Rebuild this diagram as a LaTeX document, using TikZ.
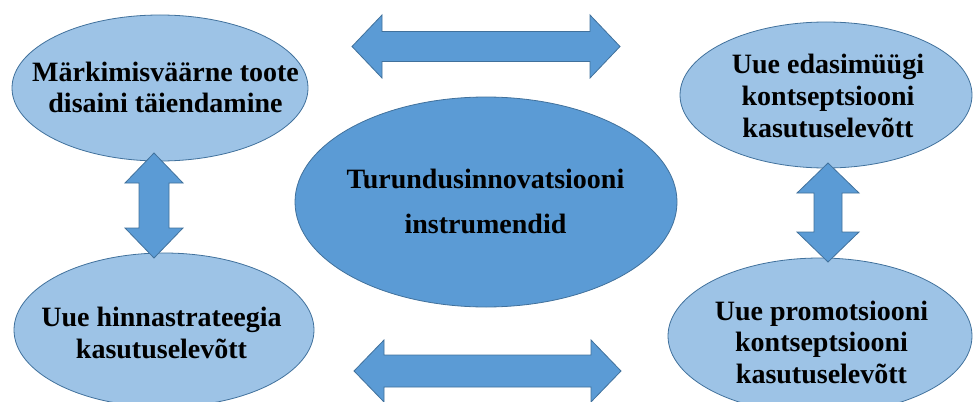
\documentclass[tikz,border=0pt]{standalone}
\usepackage{fontspec}
\setmainfont{Liberation Serif}
\usetikzlibrary{shapes.geometric}
\definecolor{lightblue}{RGB}{157,195,230}
\definecolor{midblue}{RGB}{91,155,213}
\definecolor{edgeblue}{RGB}{65,113,156}
\tikzset{
  sidebox/.style={ellipse, draw=edgeblue, line width=0.8pt, fill=lightblue, inner sep=0pt},
  centerbox/.style={ellipse, draw=edgeblue, line width=0.8pt, fill=midblue, inner sep=0pt},
  sidetext/.style={anchor=base, inner sep=0pt, align=center, font=\bfseries\fontsize{28}{31.5}\selectfont},
  centertext/.style={anchor=base, inner sep=0pt, align=center, font=\bfseries\fontsize{28}{45}\selectfont},
  blockarrow/.style={draw=edgeblue, line width=0.8pt, fill=midblue, line join=miter},
}
\begin{document}
\begin{tikzpicture}[x=1pt,y=-1pt]
\useasboundingbox (0,0) rectangle (973,401);
% ellipses
\node[sidebox, minimum width=296pt, minimum height=146pt] (tl) at (160,88) {};
\node[sidebox, minimum width=292pt, minimum height=146pt] (tr) at (826,95) {};
\node[centerbox, minimum width=382pt, minimum height=210pt] (c) at (486,202) {};
\node[sidebox, minimum width=300pt, minimum height=154pt] (bl) at (164,330) {};
\node[sidebox, minimum width=304pt, minimum height=156pt] (br) at (820,336) {};
% texts (anchor=base is the baseline of the last line)
\node[sidetext] (tlt) at (165.5,113) {Märkimisväärne toote\\disaini täiendamine};
\node[sidetext] (trt) at (828,137) {Uue edasimüügi\\kontseptsiooni\\kasutuselevõtt};
\node[centertext] (ct) at (485.5,233) {Turundusinnovatsiooni\\instrumendid};
\node[sidetext] (blt) at (161.5,358) {Uue hinnastrateegia\\kasutuselevõtt};
\node[sidetext] (brt) at (821.5,383) {Uue promotsiooni\\kontseptsiooni\\kasutuselevõtt};
% horizontal block arrows
\coordinate (ta) at (352,46.5);
\draw[blockarrow] (ta) -- ++(30,-31.5) -- ++(0,16.5) -- ++(208,0) -- ++(0,-16.5) -- ++(30,31.5)
  -- ++(-30,31.5) -- ++(0,-16.5) -- ++(-208,0) -- ++(0,16.5) -- cycle;
\coordinate (ba) at (354,371);
\draw[blockarrow] (ba) -- ++(30,-31) -- ++(0,15) -- ++(207,0) -- ++(0,-15) -- ++(30,31)
  -- ++(-30,31) -- ++(0,-15) -- ++(-207,0) -- ++(0,15) -- cycle;
% vertical block arrows
\coordinate (la) at (154,153);
\draw[blockarrow] (la) -- ++(29,30) -- ++(-14,0) -- ++(0,45) -- ++(14,0) -- ++(-29,30)
  -- ++(-29,-30) -- ++(14,0) -- ++(0,-45) -- ++(-14,0) -- cycle;
\coordinate (ra) at (828,163);
\draw[blockarrow] (ra) -- ++(31,30) -- ++(-17,0) -- ++(0,39) -- ++(17,0) -- ++(-31,30)
  -- ++(-31,-30) -- ++(17,0) -- ++(0,-39) -- ++(-17,0) -- cycle;
\end{tikzpicture}
\end{document}
